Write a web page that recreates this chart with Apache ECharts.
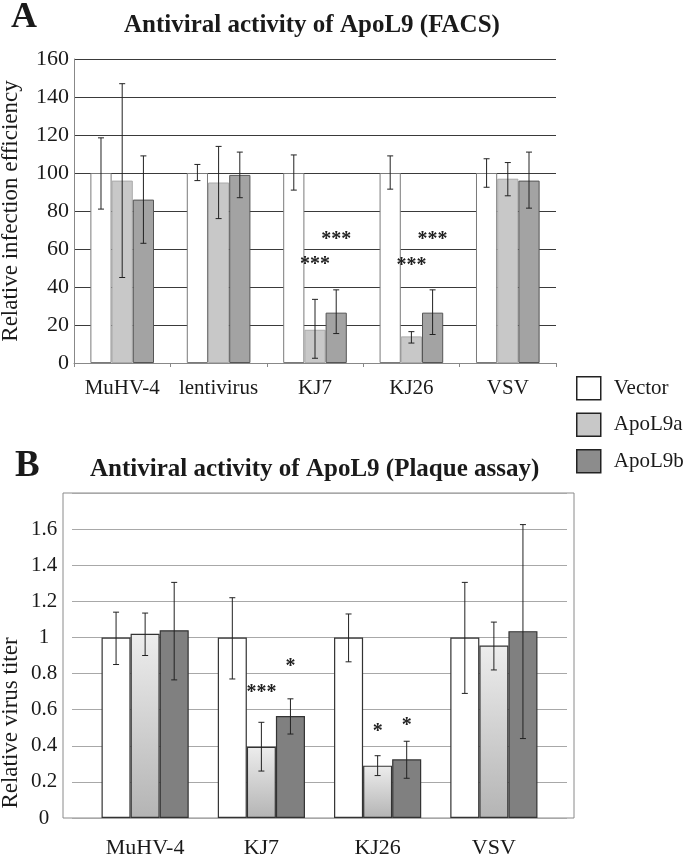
<!DOCTYPE html>
<html><head><meta charset="utf-8">
<script src="https://cdn.jsdelivr.net/npm/echarts@6/dist/echarts.min.js"></script>
<style>html,body{margin:0;padding:0;background:#fff}#c{width:687px;height:856px}</style>
</head><body><div id="c"></div>
<script>
const seriesNames = ['Vector', 'ApoL9a', 'ApoL9b'];
// Panel A (FACS)
const catsA = ['MuHV-4', 'lentivirus', 'KJ7', 'KJ26', 'VSV'];
const vectorA = [100, 100, 100, 100, 100];
const apoL9aA = [96, 95, 17.5, 14, 97];
const apoL9bA = [86, 99, 26.5, 26.5, 96];
const vectorErrA = [[81, 118.5], [96, 104.5], [91, 109.5], [91.5, 109], [92.5, 107.5]];
const apoL9aErrA = [[45, 147], [76, 114], [2.5, 33.5], [10.5, 16.5], [88, 105.5]];
const apoL9bErrA = [[63, 109], [87, 111], [15.5, 38.5], [15, 38.5], [81.5, 111]];
const starsA = [[2, 1, '***', 53.7], [2, 2, '***', 66.8], [3, 1, '***', 53.5], [3, 2, '***', 66.8]];
const yTicksA = [0, 20, 40, 60, 80, 100, 120, 140, 160];
// Panel B (Plaque assay)
const catsB = ['MuHV-4', 'KJ7', 'KJ26', 'VSV'];
const vectorB = [1, 1, 1, 1];
const apoL9aB = [1.02, 0.395, 0.29, 0.955];
const apoL9bB = [1.04, 0.565, 0.325, 1.035];
const vectorErrB = [[0.85, 1.14], [0.77, 1.22], [0.865, 1.13], [0.69, 1.305]];
const apoL9aErrB = [[0.9, 1.135], [0.26, 0.53], [0.235, 0.345], [0.82, 1.085]];
const apoL9bErrB = [[0.765, 1.305], [0.465, 0.66], [0.22, 0.425], [0.44, 1.625]];
const starsB = [[1, 1, '***', 0.715], [1, 2, '*', 0.86], [2, 1, '*', 0.5], [2, 2, '*', 0.53]];
const yTicksB = [0, 0.2, 0.4, 0.6, 0.8, 1, 1.2, 1.4, 1.6, 1.8];

const FONT = 'Liberation Serif, Times New Roman, serif';
const TXT = '#1a1a1a';

function errData(errs) {
  const out = [];
  errs.forEach((arr, s) => arr.forEach((e, i) => out.push([i, s, e[0], e[1]])));
  return out;
}
function errRender(frac) {
  return function (params, api) {
    const i = api.value(0), s = api.value(1);
    const lo = api.coord([i, api.value(2)]);
    const hi = api.coord([i, api.value(3)]);
    const bw = api.size([1, 0])[0] * frac;
    const x = lo[0] + (s - 1) * bw;
    const cap = 3;
    const st = { stroke: '#222', lineWidth: 1 };
    return { type: 'group', children: [
      { type: 'line', shape: { x1: x, y1: hi[1], x2: x, y2: lo[1] }, style: st },
      { type: 'line', shape: { x1: x - cap, y1: hi[1], x2: x + cap, y2: hi[1] }, style: st },
      { type: 'line', shape: { x1: x - cap, y1: lo[1], x2: x + cap, y2: lo[1] }, style: st }
    ]};
  };
}
function starRender(frac, stars) {
  return function (params, api) {
    const i = api.value(0), s = api.value(1);
    const p = api.coord([i, api.value(2)]);
    const bw = api.size([1, 0])[0] * frac;
    return { type: 'text', style: {
      text: stars[params.dataIndex][2], x: p[0] + (s - 1) * bw, y: p[1] + 4,
      align: 'center', verticalAlign: 'middle', fill: '#222',
      font: 'bold 20px ' + FONT } };
  };
}

const fracA = 0.22, fracB = 0.25;
const gradB = { type: 'linear', x: 0, y: 0, x2: 0, y2: 1,
  colorStops: [{ offset: 0, color: '#ededed' }, { offset: 1, color: '#b4b4b4' }] };
const gridBase = { containLabel: false, outerBoundsMode: 'none' };

const option = {
  animation: false,
  backgroundColor: '#fff',
  title: [
    { text: 'A', left: 11, top: 0, padding: 0, textStyle: { fontFamily: FONT, fontWeight: 'bold', fontSize: 36, color: TXT } },
    { text: 'Antiviral activity of ApoL9 (FACS)', left: 124, top: 13, padding: 0, textStyle: { fontFamily: FONT, fontWeight: 'bold', fontSize: 25, color: TXT } },
    { text: 'B', left: 15, top: 448, padding: 0, textStyle: { fontFamily: FONT, fontWeight: 'bold', fontSize: 37, color: TXT } },
    { text: 'Antiviral activity of ApoL9 (Plaque assay)', left: 90, top: 457, padding: 0, textStyle: { fontFamily: FONT, fontWeight: 'bold', fontSize: 25, color: TXT } }
  ],
  legend: {
    orient: 'vertical', left: 576, top: 376, padding: 0,
    itemWidth: 24, itemHeight: 23, itemGap: 12, icon: 'rect',
    textStyle: { fontFamily: FONT, fontSize: 21, color: TXT, padding: [0, 0, 0, 8] },
    data: [
      { name: 'Vector', itemStyle: { color: '#ffffff', borderColor: '#222', borderWidth: 1.5 } },
      { name: 'ApoL9a', itemStyle: { color: '#c8c8c8', borderColor: '#222', borderWidth: 1.5 } },
      { name: 'ApoL9b', itemStyle: { color: '#8c8c8c', borderColor: '#222', borderWidth: 1.5 } }
    ]
  },
  grid: [
    Object.assign({ left: 74, top: 59, width: 482, height: 304 }, gridBase),                                   // A
    Object.assign({ left: 63, top: 493, width: 511, height: 325, show: true, borderColor: '#8a8a8a', borderWidth: 1 }, gridBase), // B frame
    Object.assign({ left: 72, top: 493, width: 495, height: 325 }, gridBase),                                  // B gridlines
    Object.assign({ left: 87, top: 493, width: 465, height: 325 }, gridBase),                                  // B data
    Object.assign({ left: 72, top: 628, width: 495, height: 190 }, gridBase)                                   // B name holder
  ],
  xAxis: [
    { type: 'category', gridIndex: 0, data: catsA,
      axisLine: { lineStyle: { color: '#888' } },
      axisTick: { show: true, length: 4, lineStyle: { color: '#888' } },
      axisLabel: { fontFamily: FONT, fontSize: 21, color: TXT, margin: 15, interval: 0 } },
    { type: 'value', gridIndex: 1, show: false },
    { type: 'value', gridIndex: 2, show: false },
    { type: 'category', gridIndex: 3, data: catsB,
      axisLine: { show: false }, axisTick: { show: false },
      axisLabel: { fontFamily: FONT, fontSize: 22, color: TXT, margin: 19, interval: 0 } },
    { type: 'value', gridIndex: 4, show: false }
  ],
  yAxis: [
    { type: 'value', gridIndex: 0, min: yTicksA[0], max: yTicksA[yTicksA.length - 1], interval: yTicksA[1] - yTicksA[0],
      axisLine: { show: true, lineStyle: { color: '#888' } }, axisTick: { show: false },
      splitLine: { lineStyle: { color: '#3a3a3a', width: 1 } },
      axisLabel: { fontFamily: FONT, fontSize: 22, color: TXT, margin: 5 },
      name: 'Relative infection efficiency', nameLocation: 'middle', nameGap: 52,
      nameTextStyle: { fontFamily: FONT, fontSize: 23, color: TXT } },
    { type: 'value', gridIndex: 1, show: false, min: 0, max: 1.8 },
    { type: 'value', gridIndex: 2, min: yTicksB[0], max: yTicksB[yTicksB.length - 1], interval: 0.2,
      axisLine: { show: false }, axisTick: { show: false },
      splitLine: { lineStyle: { color: '#a8a8a8', width: 1 } },
      axisLabel: { fontFamily: FONT, fontSize: 21, color: TXT, margin: 28, align: 'center', showMaxLabel: false,
        formatter: v => String(Math.round(v * 10) / 10) } },
    { type: 'value', gridIndex: 3, min: 0, max: 1.8, show: false },
    { type: 'value', gridIndex: 4, min: 0, max: 1, axisLine: { show: false }, axisTick: { show: false },
      axisLabel: { show: false }, splitLine: { show: false },
      name: 'Relative virus titer', nameLocation: 'middle', nameGap: 50,
      nameTextStyle: { fontFamily: FONT, fontSize: 23, color: TXT } }
  ],
  series: [
    { name: seriesNames[0], type: 'bar', xAxisIndex: 0, yAxisIndex: 0, data: vectorA, barWidth: fracA * 100 + '%', barGap: '0%',
      itemStyle: { color: '#ffffff', borderColor: '#7a7a7a', borderWidth: 1 } },
    { name: seriesNames[1], type: 'bar', xAxisIndex: 0, yAxisIndex: 0, data: apoL9aA, barWidth: fracA * 100 + '%', barGap: '0%',
      itemStyle: { color: '#c8c8c8', borderColor: '#aaaaaa', borderWidth: 1 } },
    { name: seriesNames[2], type: 'bar', xAxisIndex: 0, yAxisIndex: 0, data: apoL9bA, barWidth: fracA * 100 + '%', barGap: '0%',
      itemStyle: { color: '#a3a3a3', borderColor: '#555', borderWidth: 1 } },
    { type: 'custom', xAxisIndex: 0, yAxisIndex: 0, renderItem: errRender(fracA), encode: { x: 0, y: [2, 3] },
      data: errData([vectorErrA, apoL9aErrA, apoL9bErrA]), z: 5 },
    { type: 'custom', xAxisIndex: 0, yAxisIndex: 0, renderItem: starRender(fracA, starsA), encode: { x: 0, y: 2 },
      data: starsA.map(d => [d[0], d[1], d[3]]), z: 6 },

    { name: seriesNames[0], type: 'bar', xAxisIndex: 3, yAxisIndex: 3, data: vectorB, barWidth: fracB * 100 + '%', barGap: '0%',
      itemStyle: { color: '#ffffff', borderColor: '#333', borderWidth: 1.2 } },
    { name: seriesNames[1], type: 'bar', xAxisIndex: 3, yAxisIndex: 3, data: apoL9aB, barWidth: fracB * 100 + '%', barGap: '0%',
      itemStyle: { color: gradB, borderColor: '#333', borderWidth: 1.2 } },
    { name: seriesNames[2], type: 'bar', xAxisIndex: 3, yAxisIndex: 3, data: apoL9bB, barWidth: fracB * 100 + '%', barGap: '0%',
      itemStyle: { color: '#808080', borderColor: '#333', borderWidth: 1.2 } },
    { type: 'custom', xAxisIndex: 3, yAxisIndex: 3, renderItem: errRender(fracB), encode: { x: 0, y: [2, 3] },
      data: errData([vectorErrB, apoL9aErrB, apoL9bErrB]), z: 5 },
    { type: 'custom', xAxisIndex: 3, yAxisIndex: 3, renderItem: starRender(fracB, starsB), encode: { x: 0, y: 2 },
      data: starsB.map(d => [d[0], d[1], d[3]]), z: 6 }
  ]
};
const chart = echarts.init(document.getElementById('c'), null, { renderer: 'canvas' });
chart.setOption(option);
</script>
</body></html>
